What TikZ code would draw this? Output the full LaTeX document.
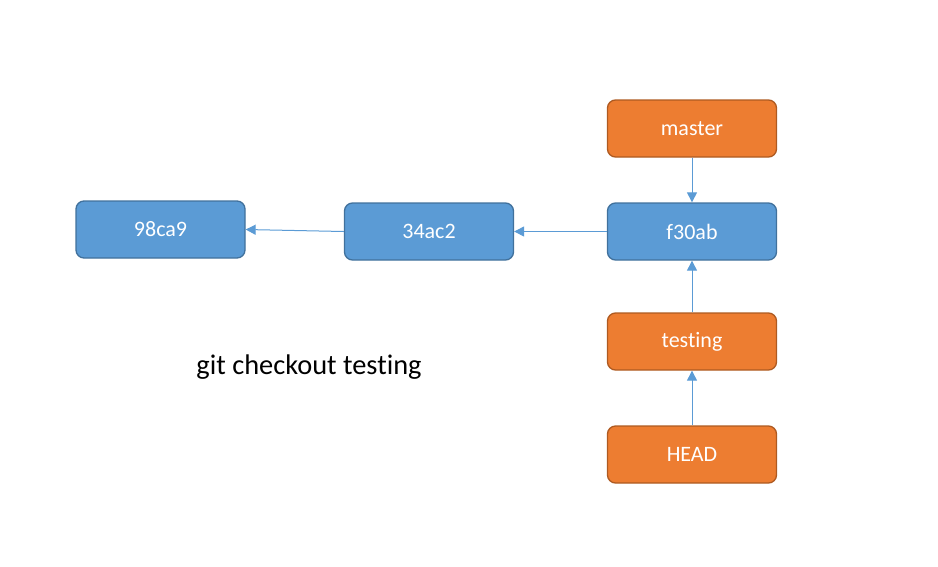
\documentclass[tikz,border=0pt]{standalone}
\usepackage{fontspec}
\setmainfont[Ligatures={NoCommon}]{Carlito}
\usetikzlibrary{arrows.meta}
\definecolor{bfill}{HTML}{5B9BD5}
\definecolor{bdraw}{HTML}{41719C}
\definecolor{ofill}{HTML}{ED7D31}
\definecolor{odraw}{HTML}{AE5A21}
\begin{document}
\begin{tikzpicture}[x=1pt,y=-1pt,
  commit/.style={draw=bdraw,fill=bfill,line width=1.3pt,rounded corners=8pt,minimum width=169pt,minimum height=57pt,inner sep=0pt,text=white,font=\fontsize{22}{26}\selectfont},
  branch/.style={commit,draw=odraw,fill=ofill},
  conn/.style={draw=bfill,line width=1pt,-{Triangle[length=10pt,width=10pt]}}]
\useasboundingbox (0,0) rectangle (938,566);
\node[commit] (c1) at (160.5,229.5) {98ca9};
\node[commit] (c2) at (429,231.5) {34ac2};
\node[commit] (c3) at (692,231.5) {f30ab};
\node[branch] (master) at (692,128.5) {master};
\node[branch] (testing) at (692,341.5) {testing};
\node[branch] (head) at (692,454.5) {HEAD};
\node[font=\fontsize{28.4}{32}\selectfont] (cmd) at (309,367) {git checkout testing};
\draw[conn] (c2.west) -- (c1.east);
\draw[conn] (c3.west) -- (c2.east);
\draw[conn] (master) -- (c3);
\draw[conn] (testing) -- (c3);
\draw[conn] (head) -- (testing);
\end{tikzpicture}
\end{document}
